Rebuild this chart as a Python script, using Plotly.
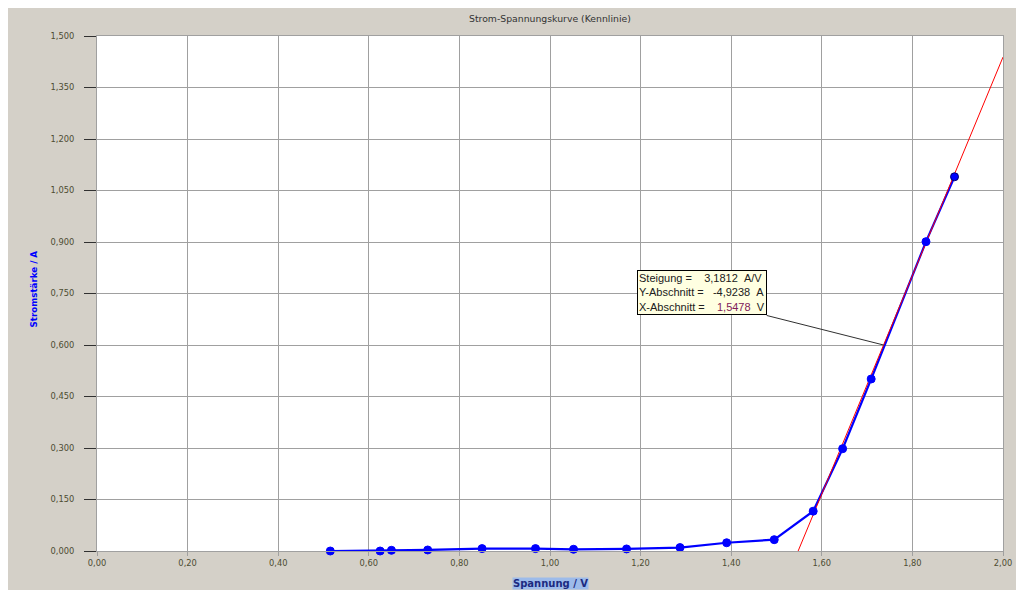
import plotly.graph_objects as go

# Messwerte (Spannung in V, Stromstärke in A)
spannung = [0.515, 0.625, 0.650, 0.730, 0.850, 0.968, 1.052, 1.169, 1.287,
            1.390, 1.495, 1.581, 1.646, 1.709, 1.830, 1.893]
strom = [0.000, 0.000, 0.002, 0.003, 0.007, 0.007, 0.005, 0.006, 0.010,
         0.024, 0.033, 0.116, 0.298, 0.501, 0.901, 1.090]

# Ausgleichsgerade
steigung = 3.1812
y_abschnitt = -4.9238
x_abschnitt = 1.5478
x_max = 2.0

x_ticks = [0.0, 0.2, 0.4, 0.6, 0.8, 1.0, 1.2, 1.4, 1.6, 1.8, 2.0]
y_ticks = [0.0, 0.15, 0.30, 0.45, 0.60, 0.75, 0.90, 1.05, 1.20, 1.35, 1.50]

fit_x = [x_abschnitt, x_max]
fit_y = [steigung * v + y_abschnitt for v in fit_x]

# Punkt, auf den das Info-Feld zeigt
ziel_y = 0.60
ziel_x = (ziel_y - y_abschnitt) / steigung

FONT = "DejaVu Sans"
TICKCOL = "#4d4d33"
GRID = "#a0a0a0"

fig = go.Figure()

fig.add_trace(go.Scatter(
    x=spannung, y=strom, mode="lines",
    line=dict(color="#0000ff", width=2.2),
    cliponaxis=False, hoverinfo="skip", showlegend=False))

fig.add_trace(go.Scatter(
    x=fit_x, y=fit_y, mode="lines",
    line=dict(color="#ff0000", width=1),
    hoverinfo="skip", showlegend=False))

marker_line = ["#0000ff"] * (len(spannung) - 1) + ["#000070"]
fig.add_trace(go.Scatter(
    x=spannung, y=strom, mode="markers",
    marker=dict(color="#0000ff", size=8, line=dict(color=marker_line, width=1)),
    cliponaxis=False, showlegend=False))

fig.update_xaxes(
    range=[0, 2], tickvals=x_ticks, tickformat=".2f",
    showgrid=True, gridcolor=GRID, gridwidth=1,
    zeroline=False, showline=True, linecolor=GRID, linewidth=1, mirror=True,
    ticks="outside", ticklen=4, tickcolor=GRID,
    tickfont=dict(family=FONT, size=8.3, color=TICKCOL),
    fixedrange=True)

fig.update_yaxes(
    range=[0, 1.5], tickvals=y_ticks, tickformat=".3f",
    showgrid=True, gridcolor=GRID, gridwidth=1,
    zeroline=False, showline=True, linecolor=GRID, linewidth=1, mirror=True,
    ticks="outside", ticklen=12, tickcolor="#303030",
    tickfont=dict(family=FONT, size=8.3, color=TICKCOL),
    ticklabelstandoff=8,
    fixedrange=True)

# Info-Feld mit Verbindungslinie
box_x = ziel_x - 0.258
box_y = ziel_y + 0.086
fig.add_shape(type="line", x0=box_x, y0=box_y, x1=ziel_x, y1=ziel_y,
              xref="x", yref="y", line=dict(color="#303030", width=1))

nb = "\u00a0"
box_text = (
    f"Steigung ={nb*4}{steigung:.4f}".replace(".", ",") + f"{nb*2}A/V<br>"
    + f"Y-Abschnitt ={nb*3}{y_abschnitt:.4f}".replace(".", ",") + f"{nb*2}A<br>"
    + f"X-Abschnitt ={nb*4}<span style='color:#80205a'>"
    + f"{x_abschnitt:.4f}".replace(".", ",") + f"</span>{nb*2}V"
)
fig.add_annotation(
    x=box_x, y=box_y, xref="x", yref="y", xanchor="right", yanchor="bottom",
    text=box_text, showarrow=False, align="left",
    font=dict(family="Liberation Sans", size=11, color="#202020"),
    bgcolor="#ffffe1", bordercolor="#000000", borderwidth=1, borderpad=1)

# Titel und Achsentitel
fig.add_annotation(
    x=0.5, y=1, xref="paper", yref="paper", yanchor="bottom", yshift=10,
    text="Strom-Spannungskurve (Kennlinie)", showarrow=False,
    font=dict(family=FONT, size=9.3, color="#333333"))

fig.add_annotation(
    x=0, y=0.5, xref="paper", yref="paper", xanchor="center", yanchor="middle",
    xshift=-64, yshift=4, textangle=-90,
    text="<b>Stromstärke / A</b>", showarrow=False,
    font=dict(family=FONT, size=8.7, color="#0000ff"))

fig.add_annotation(
    x=0.5, y=0, xref="paper", yref="paper", yanchor="middle", yshift=-32,
    text="<b>Spannung / V</b>", showarrow=False,
    font=dict(family=FONT, size=10, color="#1c2a80"),
    bgcolor="#9dbbea", borderpad=0)

fig.update_layout(
    width=1016, height=582,
    margin=dict(l=89, r=18, t=27.5, b=38.5, pad=0),
    paper_bgcolor="#d4d0c8", plot_bgcolor="#ffffff",
    separators=", ",
    showlegend=False,
    font=dict(family=FONT, size=8, color=TICKCOL))

fig.write_html(
    "out.html", config={"displayModeBar": False},
    default_width="1016px", default_height="582px",
    post_script=("document.documentElement.style.overflow='hidden';"
                 "document.body.style.overflow='hidden';"))
